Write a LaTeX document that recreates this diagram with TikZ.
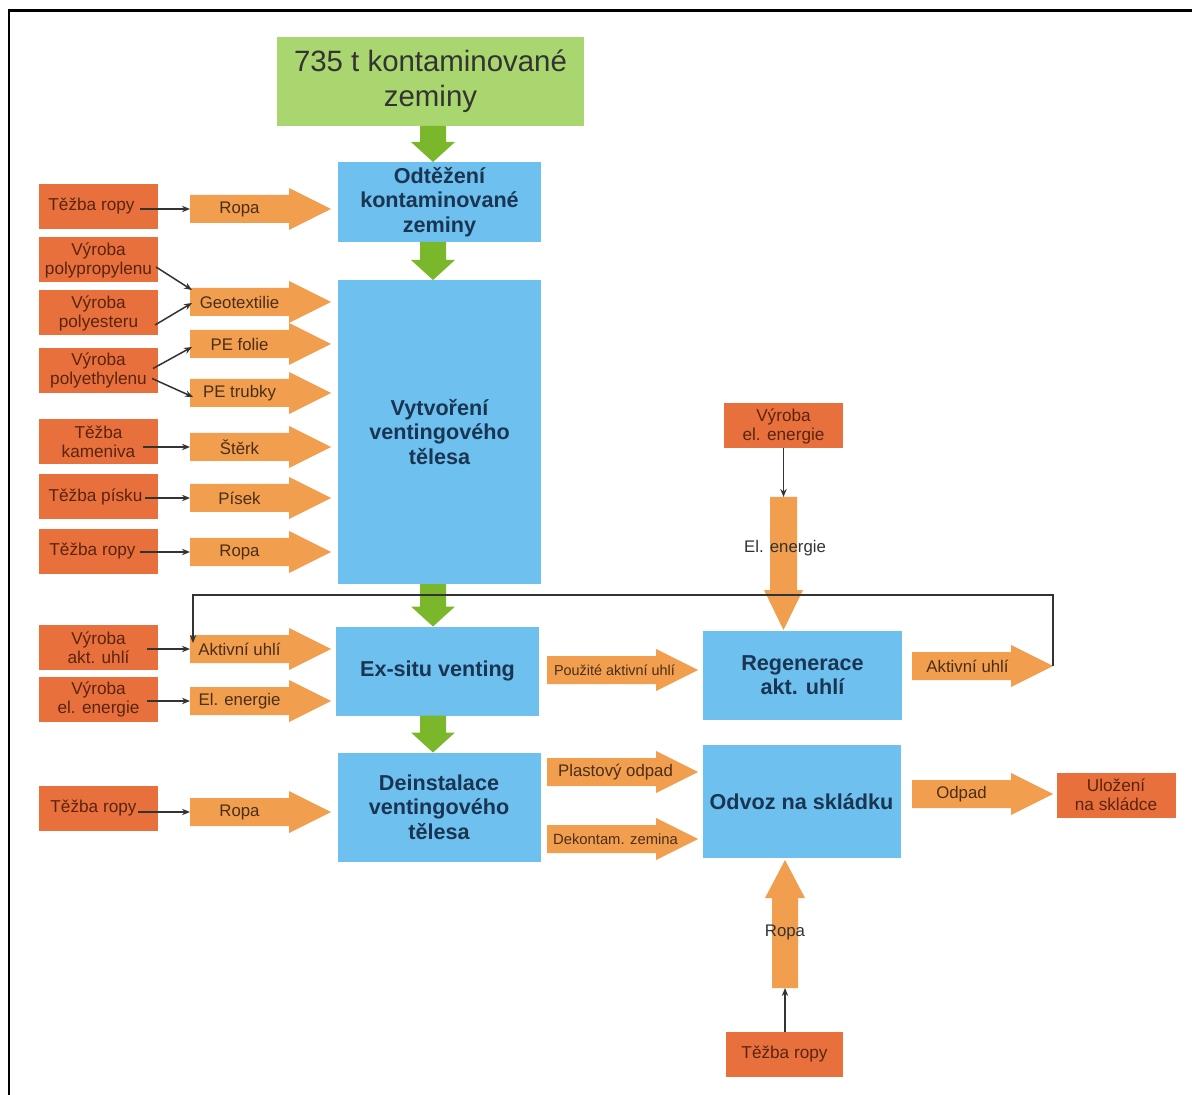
\documentclass[tikz,border=0pt]{standalone}
\usepackage{fontspec}
\setmainfont{Liberation Sans}
\usetikzlibrary{arrows.meta,calc}
\definecolor{boxor}{HTML}{E8703D}
\definecolor{aor}{HTML}{F19E4E}
\definecolor{pblue}{HTML}{6EC0EE}
\definecolor{lgreen}{HTML}{A9D66E}
\definecolor{garrowc}{HTML}{7AB72A}
\definecolor{srctxt}{HTML}{5A2410}
\definecolor{otxt}{HTML}{4A2E1A}
\definecolor{ptxt}{HTML}{1A3552}
\definecolor{gtxt}{HTML}{333333}
\definecolor{lc}{HTML}{333333}
\newcommand\oflow[6][0]{%
  \fill[aor] (#3,#5-14) -- (#4-42,#5-14) -- (#4-42,#5-21) -- (#4,#5) -- (#4-42,#5+21) -- (#4-42,#5+14) -- (#3,#5+14) -- cycle;
  \node[olbl, minimum width={(#4-#3-42)*0.5pt}] (#2) at ({(#3+#4-42)/2+#1},#5) {#6};
  \coordinate (#2tip) at (#4,#5);}
\newcommand\greenflow[2]{%
  \fill[garrowc] ($(#1.south -| gx)+(-13,0)$) -- ($(#1.south -| gx)+(13,0)$) -- ($(#2.north -| gx)+(13,-20)$) -- ($(#2.north -| gx)+(22,-20)$) -- (#2.north -| gx) -- ($(#2.north -| gx)+(-22,-20)$) -- ($(#2.north -| gx)+(-13,-20)$) -- cycle;}
\begin{document}
\begin{tikzpicture}[x=0.5pt,y=-0.5pt,
  src/.style={fill=boxor, text=srctxt, font=\fontsize{8.6}{9.5}\selectfont, align=center, inner sep=0pt, outer sep=0pt, minimum width=59.5pt, minimum height=22.5pt},
  proc/.style={fill=pblue, text=ptxt, font=\bfseries\fontsize{10.8}{12.2}\selectfont, align=center, inner sep=0pt, outer sep=0pt, minimum width=101.5pt},
  olbl/.style={text=otxt, font=\fontsize{8.4}{9}\selectfont, inner sep=0pt, outer sep=0pt, minimum height=14pt},
  conn/.style={draw=lc, line width=0.75pt, -{Stealth[length=4pt,width=3.2pt]}},
  loopline/.style={draw=lc, line width=0.9pt, -{Stealth[length=4pt,width=3.2pt]}}]
\useasboundingbox (0,0) rectangle (1192,1095);
\fill[white] (0,0) rectangle (1192,1095);
\draw[line width=1.3pt] (9,1095) -- (9,10.5) -- (1192,10.5);
\coordinate (gx) at (433,0);

% process boxes
\node[fill=lgreen, text=gtxt, font=\fontsize{14.7}{17.5}\selectfont, align=center, minimum width=153.5pt, minimum height=44.5pt, inner sep=0pt, outer sep=0pt] (top) at (430.5,81.5) {735 t kontaminované\\zeminy};
\node[proc, minimum height=40pt] (odt) at (439.5,202) {Odtěžení\\kontaminované\\zeminy};
\node[proc, minimum height=152pt] (vyt) at (439.5,432) {Vytvoření\\ventingového\\tělesa};
\node[proc, minimum height=44.5pt] (exs) at (437.5,671) {Ex-situ venting};
\node[proc, minimum height=54.5pt] (dei) at (439,807) {Deinstalace\\ventingového\\tělesa};
\node[proc, minimum width=99.5pt, minimum height=44.5pt] (reg) at (802.5,675) {Regenerace\\akt. uhlí};
\node[proc, minimum width=99pt, minimum height=56.5pt] (odv) at (801.5,801.5) {Odvoz na skládku};

\greenflow{top}{odt}
\greenflow{odt}{vyt}
\greenflow{vyt}{exs}
\greenflow{exs}{dei}

% source boxes
\node[src] (tr1) at (98.5,206.5) {\hspace*{-7pt}Těžba ropy};
\node[src] (vpp) at (98.5,260) {Výroba\\polypropylenu};
\node[src] (vpe) at (98.5,313) {Výroba\\polyesteru};
\node[src] (vph) at (98.5,370.5) {Výroba\\polyethylenu};
\node[src] (tk) at (98.5,441.5) {Těžba\\kameniva};
\node[src] (tp) at (98.5,497) {\hspace*{-3pt}Těžba písku};
\node[src] (tr2) at (98.5,551.5) {\hspace*{-6pt}Těžba ropy};
\node[src] (vau) at (98.5,647.5) {Výroba\\akt. uhlí};
\node[src] (vee) at (98.5,699.5) {Výroba\\el. energie};
\node[src] (tr3) at (98.5,808) {\hspace*{-5pt}Těžba ropy};
\node[src] (vee2) at (783.5,426) {Výroba\\el. energie};
\node[src] (ul) at (1116,795) {Uložení\\na skládce};
\node[src, minimum width=58.5pt] (tr4) at (784.5,1054) {Těžba ropy};

% block arrows
\oflow{r1}{190}{331}{209}{Ropa}
\oflow{geo}{190}{331}{302}{Geotextilie}
\oflow{pef}{190}{331}{344}{PE folie}
\oflow{pet}{190}{331}{393}{PE trubky}
\oflow{stk}{190}{331}{447}{Štěrk}
\oflow{pis}{190}{331}{498}{Písek}
\oflow{rr2}{190}{331}{552}{Ropa}
\oflow{au1}{190}{331}{649}{Aktivní uhlí}
\oflow{ee1}{190}{331}{701}{El. energie}
\oflow{rr3}{190}{331}{812}{Ropa}
\oflow[13]{pau}{547}{698}{670}{\fontsize{7.2}{8}\selectfont Použité aktivní uhlí}
\oflow[14]{plo}{547}{698}{772}{Plastový odpad}
\oflow[14]{dkz}{547}{698}{839}{\fontsize{7.4}{8}\selectfont Dekontam. zemina}
\oflow[6]{au2}{912}{1053}{666}{Aktivní uhlí}
\oflow{odp}{912}{1053}{794}{Odpad}

% vertical block arrows
\fill[aor] (770,497) -- (797,497) -- (797,590) -- (803,590) -- (783.5,630) -- (764,590) -- (770,590) -- cycle;
\coordinate (eetop) at (783.5,497);
\node[olbl, text=gtxt] (eel) at (785,548) {El. energie};
\fill[aor] (772,988) -- (798,988) -- (798,898) -- (805,898) -- (785,860) -- (765,898) -- (772,898) -- cycle;
\coordinate (ropbot) at (785,988);
\node[olbl, text=gtxt] (rvl) at (785,932) {Ropa};

% thin connectors
\draw[conn] (r1.west -| tr1.east) ++(-18,0) -- (r1.west);
\draw[conn] ($(vpp.east)+(-2,7)$) -- ($(geo.west)+(2,-12)$);
\draw[conn] ($(vpe.east)+(-3,12)$) -- ($(geo.west)+(2,1)$);
\draw[conn] ($(vph.east)+(-5,-2)$) -- ($(pef.west)+(2,3)$);
\draw[conn] ($(vph.east)+(-6,8)$) -- ($(pet.west)+(3,4)$);
\draw[conn] (stk.west -| tk.east) ++(-15,0) -- (stk.west);
\draw[conn] (pis.west -| tp.east) ++(-13,0) -- (pis.west);
\draw[conn] (rr2.west -| tr2.east) ++(-18,0) -- (rr2.west);
\draw[conn] (au1.west -| vau.east) ++(-11,0) -- (au1.west);
\draw[conn] (ee1.west -| vee.east) ++(-11,0) -- (ee1.west);
\draw[conn] (rr3.west -| tr3.east) ++(-20,0) -- (rr3.west);
\draw[conn] (vee2.south) -- (eetop);
\draw[conn] (tr4.north -| ropbot) -- (ropbot);
\draw[loopline] (au2tip) -- ++(0,-71) -| ($(au1.west)+(3,-6)$);
\end{tikzpicture}
\end{document}
